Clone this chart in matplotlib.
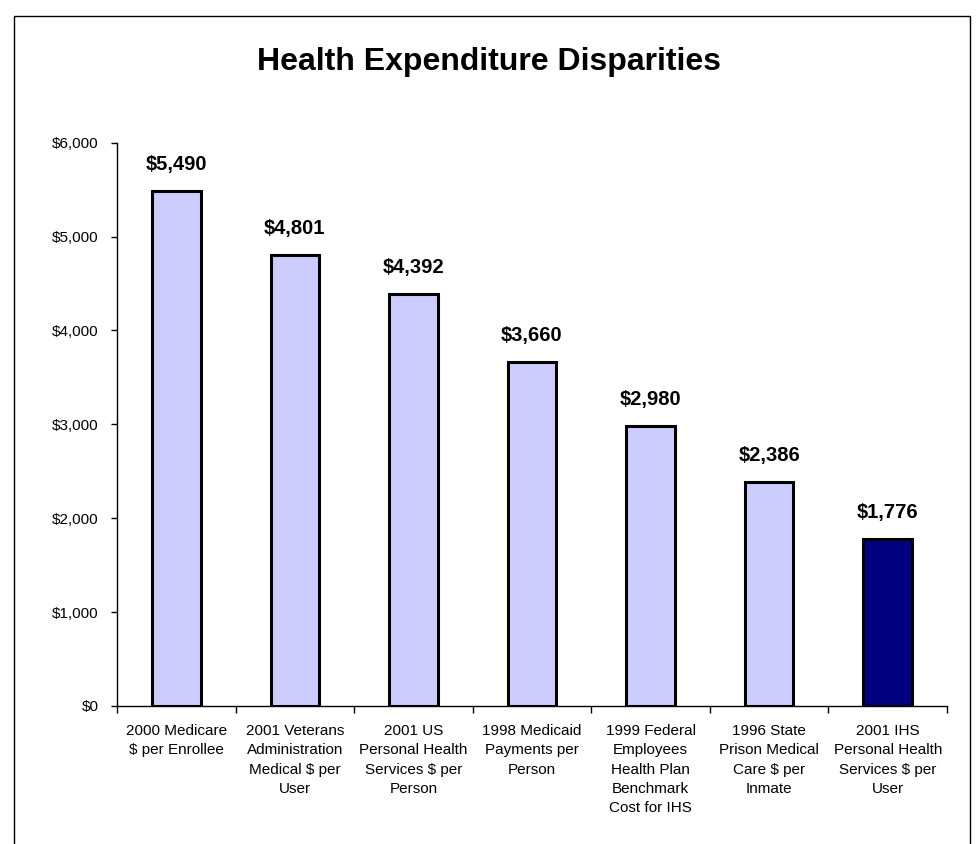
import matplotlib
matplotlib.use("Agg")
import matplotlib.pyplot as plt
from matplotlib.patches import Rectangle

plt.rcParams['font.family'] = ['Liberation Sans', 'DejaVu Sans']

title = "Health Expenditure Disparities"
categories = [
    "2000 Medicare\n\\$ per Enrollee",
    "2001 Veterans\nAdministration\nMedical \\$ per\nUser",
    "2001 US\nPersonal Health\nServices \\$ per\nPerson",
    "1998 Medicaid\nPayments per\nPerson",
    "1999 Federal\nEmployees\nHealth Plan\nBenchmark\nCost for IHS",
    "1996 State\nPrison Medical\nCare \\$ per\nInmate",
    "2001 IHS\nPersonal Health\nServices \\$ per\nUser",
]
values = [5490, 4801, 4392, 3660, 2980, 2386, 1776]
yticks = [0, 1000, 2000, 3000, 4000, 5000, 6000]
colors = ['#CCCCFF'] * 6 + ['#000080']

fig = plt.figure(figsize=(9.78, 8.44), dpi=100)
fig.patches.append(Rectangle((14/978, -0.02), (970-14)/978, 1.02 - 16/844,
                             transform=fig.transFigure, fill=False,
                             edgecolor='black', linewidth=1.0))

ax = fig.add_axes([117/978, (844-706)/844, (947-117)/978, (706-142.7)/844])
x = list(range(len(values)))
ax.bar(x, values, width=0.41, color=colors, edgecolor='black', linewidth=2.2, zorder=3)

for xi, v in zip(x, values):
    ax.text(xi, v + 180, "\\${:,}".format(v), ha='center', va='bottom',
            fontsize=14.5, fontweight='bold')

ax.set_xlim(-0.5, len(values) - 0.5)
ax.set_ylim(0, 6000)
ax.set_yticks(yticks)
ax.set_yticklabels(["\\${:,}".format(t) for t in yticks], fontsize=11)
ax.tick_params(axis='y', direction='out', length=4, width=1, pad=9)

ax.set_xticks(x)
ax.set_xticklabels(categories, fontsize=11, linespacing=1.48)
ax.tick_params(axis='x', which='major', length=0, pad=13)
ax.set_xticks([i - 0.5 for i in range(len(values) + 1)], minor=True)
ax.tick_params(axis='x', which='minor', direction='out', length=5, width=1)

for s in ['top', 'right']:
    ax.spines[s].set_visible(False)
for s in ['left', 'bottom']:
    ax.spines[s].set_linewidth(1.0)

fig.text(0.5, 1 - 70/844, title, ha='center', va='baseline', fontsize=23, fontweight='bold')

fig.savefig("out.png", dpi=100)
